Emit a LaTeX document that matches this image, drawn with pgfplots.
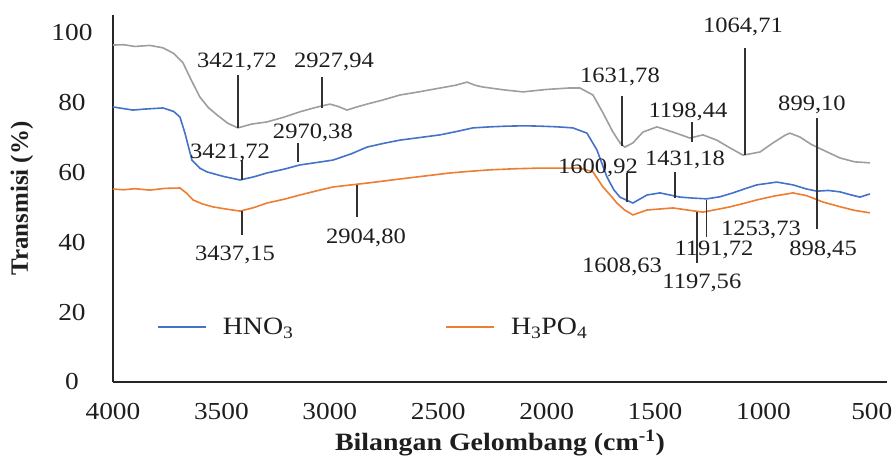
\documentclass[border=0pt]{standalone}
\usepackage{fontspec}
\setmainfont{Liberation Serif}[FakeStretch=1.12]
\newfontfamily\plainserif{Liberation Serif}
\usepackage{pgfplots}
\pgfplotsset{compat=1.18}
\definecolor{cgray}{RGB}{158,158,158}
\definecolor{cblue}{RGB}{68,114,200}
\definecolor{corange}{RGB}{237,125,49}
\definecolor{ctext}{RGB}{30,30,30}
\definecolor{cann}{RGB}{50,50,50}
\newcommand\ann{\fontsize{22}{26}\selectfont}
\begin{document}
\begin{tikzpicture}
\begin{axis}[
  scale only axis, width=774bp, height=367bp,
  xmin=430, xmax=4000, x dir=reverse,
  ymin=0, ymax=105,
  axis x line=bottom, axis y line=left,
  axis line style={-, line width=2.5bp, black!85},
  xtick={500,1000,1500,2000,2500,3000,3500,4000},
  ytick={0,20,40,60,80,100},
  major tick length=0pt,
  /pgf/number format/assume math mode=true,
  /pgf/number format/1000 sep={},
  tick label style={font=\fontsize{24.5}{28}\selectfont, text=ctext},
  xticklabel style={anchor=center, yshift=-30bp},
  yticklabel style={anchor=center, xshift=-41bp},
  xlabel={\textbf{Bilangan Gelombang (cm\textsuperscript{-1})}},
  ylabel={\plainserif\textbf{Transmisi (\%)}},
  every axis x label/.style={at={(axis description cs:0.5,-0.166)},anchor=center,font=\fontsize{25}{30}\selectfont,text=ctext},
  every axis y label/.style={at={(axis description cs:-0.1176,0.5)},rotate=90,anchor=center,font=\fontsize{25}{30}\selectfont,text=ctext},
  clip=false,
  legend columns=2,
  legend image code/.code={\draw[#1] (0bp,0bp) -- (48bp,0bp);},
  legend style={at={(axis cs:3797,15.7)}, anchor=west, draw=none, fill=none, inner sep=0pt,
    font=\fontsize{25}{30}\selectfont, text=ctext,
    /tikz/every odd column/.append style={column sep=14bp},
    /tikz/every even column/.append style={column sep=150bp}},
]
% gray (no legend)
\addplot[cgray, line width=1.6bp, forget plot] coordinates {
(4000,96.4) (3950,96.5) (3900,96.0) (3875,96.1) (3830,96.3) (3769,95.6) (3720,94.0) (3677,91.3) (3640,86.5) (3599,81.5) (3560,78.5) (3520,76.4) (3470,74.0) (3424,72.7)
(3360,73.8) (3290,74.4) (3210,75.8) (3138,77.3) (3080,78.3) (3036,79.0) (2999,79.5) (2960,78.8) (2921,77.8) (2880,78.6) (2829,79.5) (2760,80.6) (2677,82.1) (2590,83.0) (2492,84.1) (2420,84.9) (2367,85.8) (2330,84.9) (2294,84.4) (2200,83.6) (2109,83.0) (2000,83.7) (1900,84.1) (1846,84.1)
(1786,82.1) (1740,77.0) (1694,71.5) (1660,68.3) (1639,67.2) (1602,68.4) (1556,71.5) (1491,73.0) (1417,71.5) (1339,69.8) (1279,70.7) (1215,69.2) (1155,67.0) (1094,64.9) (1016,65.8) (956,68.4) (900,70.6) (878,71.2) (832,70.1) (780,68.0) (726,66.4) (647,64.1) (580,63.0) (509,62.7)
};
\addplot[cblue, line width=1.6bp] coordinates {
(4000,78.7) (3960,78.3) (3908,77.8) (3850,78.1) (3769,78.4) (3720,77.4) (3691,75.8) (3668,71.2) (3636,63.5) (3600,61.2) (3566,60.1) (3490,58.8) (3414,57.8)
(3350,58.7) (3290,59.8) (3210,60.9) (3138,62.1) (3060,62.8) (2985,63.5) (2900,65.3) (2829,67.2) (2750,68.3) (2677,69.2) (2590,69.9) (2492,70.7) (2420,71.6) (2340,72.7) (2260,73.0) (2183,73.2) (2100,73.3) (2031,73.2) (1950,73.0) (1879,72.7)
(1814,71.2) (1768,66.4) (1722,58.7) (1690,55.0) (1662,52.9) (1602,51.2) (1537,53.5) (1477,54.1) (1385,52.9) (1320,52.6) (1261,52.4) (1200,53.0) (1141,54.1) (1080,55.4) (1030,56.4) (938,57.2) (864,56.4) (800,55.2) (753,54.6) (700,54.8) (647,54.4) (600,53.6) (555,52.9) (509,53.8)
};
\addlegendentry{HNO\textsubscript{3}}
\addplot[corange, line width=1.6bp] coordinates {
(4000,55.2) (3950,55.0) (3900,55.3) (3829,54.9) (3760,55.4) (3691,55.5) (3660,54.0) (3631,52.1) (3590,51.0) (3539,50.1) (3470,49.4) (3414,48.9)
(3350,49.9) (3290,51.2) (3210,52.3) (3138,53.5) (3060,54.7) (2985,55.8) (2900,56.4) (2829,56.9) (2700,57.9) (2580,58.8) (2446,59.8) (2350,60.3) (2261,60.7) (2150,61.0) (2031,61.2) (1940,61.2) (1846,61.2)
(1786,60.1) (1740,55.8) (1700,53.0) (1676,51.2) (1640,49.2) (1602,47.8) (1537,49.2) (1417,49.8) (1350,49.2) (1279,48.6) (1220,49.3) (1155,50.1) (1090,51.1) (1030,52.1) (950,53.2) (864,54.1) (800,53.3) (726,51.5) (650,50.2) (580,49.1) (509,48.4)
};
\addlegendentry{H\textsubscript{3}PO\textsubscript{4}}
% annotation lines
\addplot[cann, line width=1.3bp, forget plot] coordinates {(3423,87.8) (3423,72.7)};
\addplot[cann, line width=1.3bp, forget plot] coordinates {(3036,87.3) (3036,78.4)};
\addplot[cann, line width=1.3bp, forget plot] coordinates {(3147,68.4) (3147,62.8)};
\addplot[cann, line width=1.3bp, forget plot] coordinates {(3405,63.5) (3405,57.8)};
\addplot[cann, line width=1.3bp, forget plot] coordinates {(3405,48.9) (3405,42.1)};
\addplot[cann, line width=1.3bp, forget plot] coordinates {(2875,56.4) (2875,47.2)};
\addplot[cann, line width=1.3bp, forget plot] coordinates {(1652,81.7) (1652,67.4)};
\addplot[cann, line width=1.3bp, forget plot] coordinates {(1330,74.5) (1330,68.7)};
\addplot[cann, line width=1.3bp, forget plot] coordinates {(1085,95.7) (1085,65.0)};
\addplot[cann, line width=1.3bp, forget plot] coordinates {(753,75.5) (753,43.8)};
\addplot[cann, line width=1.3bp, forget plot] coordinates {(1629,59.8) (1629,51.5)};
\addplot[cann, line width=1.3bp, forget plot] coordinates {(1408,60.2) (1408,52.6)};
\addplot[cann, line width=1.3bp, forget plot] coordinates {(1261,52.1) (1261,41.5)};
\addplot[cann, line width=1.3bp, forget plot] coordinates {(1307,48.6) (1307,34.0)};
% annotation labels
\node[font=\ann, text=ctext] at (axis cs:3428,91.6) {3421,72};
\node[font=\ann, text=ctext] at (axis cs:2981,91.6) {2927,94};
\node[font=\ann, text=ctext] at (axis cs:3078,71.2) {2970,38};
\node[font=\ann, text=ctext] at (axis cs:3460,65.5) {3421,72};
\node[font=\ann, text=ctext] at (axis cs:3437,36.3) {3437,15};
\node[font=\ann, text=ctext] at (axis cs:2833,41.2) {2904,80};
\node[font=\ann, text=ctext] at (axis cs:1662,87.3) {1631,78};
\node[font=\ann, text=ctext] at (axis cs:1348,77.3) {1198,44};
\node[font=\ann, text=ctext] at (axis cs:1094,101.6) {1064,71};
\node[font=\ann, text=ctext] at (axis cs:776,79.3) {899,10};
\node[font=\ann, text=ctext] at (axis cs:1763,61.2) {1600,92};
\node[font=\ann, text=ctext] at (axis cs:1362,63.5) {1431,18};
\node[font=\ann, text=ctext] at (axis cs:1011,43.5) {1253,73};
\node[font=\ann, text=ctext] at (axis cs:1228,37.8) {1191,72};
\node[font=\ann, text=ctext] at (axis cs:725,37.8) {898,45};
\node[font=\ann, text=ctext] at (axis cs:1652,32.9) {1608,63};
\node[font=\ann, text=ctext] at (axis cs:1284,28.3) {1197,56};
\end{axis}
\pgfresetboundingbox
\path[use as bounding box] (-113bp,-77bp) rectangle (781bp,382bp);
\end{tikzpicture}
\end{document}
